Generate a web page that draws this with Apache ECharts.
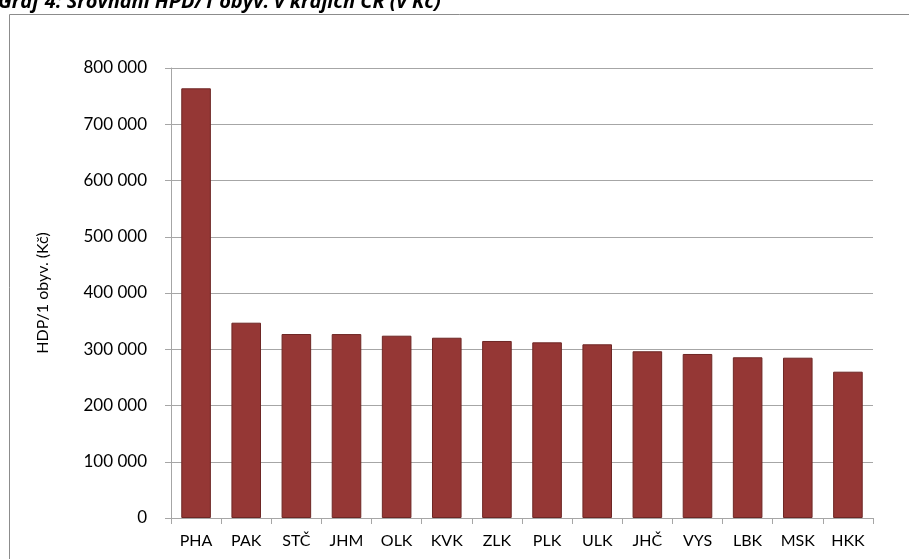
<!DOCTYPE html>
<html>
<head>
<meta charset="utf-8">
<script src="https://cdn.jsdelivr.net/npm/echarts@6/dist/echarts.min.js"></script>
<style>
  html, body { margin: 0; padding: 0; background: #fff; }
  #chart { width: 909px; height: 559px; }
</style>
</head>
<body>
<div id="chart"></div>
<script>
// kraje a HDP na obyvatele (Kč)
const regions = ['PHA', 'PAK', 'STČ', 'JHM', 'OLK', 'KVK', 'ZLK', 'PLK', 'ULK', 'JHČ', 'VYS', 'LBK', 'MSK', 'HKK']
const gdpPerCapita = [763900, 347200, 327100, 327000, 324100, 320500, 314700, 312300, 308800, 296400, 291600, 285700, 285000, 260100]
const yTicks = [0, 100000, 200000, 300000, 400000, 500000, 600000, 700000, 800000]

const FONT = 'Lato, "Open Sans", sans-serif'
const TITLE_FONT = '"Open Sans", Lato, sans-serif'

const chart = echarts.init(document.getElementById('chart'))

const fmt = v => String(v).replace(/\B(?=(\d{3})+(?!\d))/g, ' ')

const option = {
  animation: false,
  textStyle: { fontFamily: FONT },
  graphic: [
    {
      type: 'rect',
      shape: { x: 9.5, y: 14.5, width: 1000, height: 1000 },
      style: { fill: 'none', stroke: '#8c8c8c', lineWidth: 1 },
      silent: true
    },
    {
      type: 'text',
      x: -2,
      y: 12,
      style: {
        text: 'Graf 4: Srovnání HPD/1 obyv. v krajích ČR (v Kč)',
        fontFamily: TITLE_FONT,
        fontSize: 20,
        fontStyle: 'italic',
        fontWeight: 'bold',
        fill: '#000',
        verticalAlign: 'bottom'
      },
      silent: true
    }
  ],
  grid: {
    left: 171,
    right: 36,
    top: 68,
    bottom: 41,
    containLabel: false
  },
  xAxis: {
    type: 'category',
    data: regions,
    axisLine: { lineStyle: { color: '#a6a6a6', width: 1 } },
    axisTick: { show: true, length: 6, alignWithLabel: false, lineStyle: { color: '#a6a6a6' } },
    axisLabel: { color: '#000', fontSize: 16, margin: 15, fontFamily: FONT }
  },
  yAxis: {
    type: 'value',
    min: yTicks[0],
    max: yTicks[yTicks.length - 1],
    interval: 100000,
    name: 'HDP/1 obyv. (Kč)',
    nameLocation: 'middle',
    nameGap: 120,
    nameTextStyle: { color: '#000', fontSize: 16, fontFamily: FONT },
    axisLine: { show: true, lineStyle: { color: '#a6a6a6', width: 1 } },
    axisTick: { show: true, length: 6, lineStyle: { color: '#a6a6a6' } },
    axisLabel: { color: '#000', fontSize: 17, margin: 24, fontFamily: FONT, formatter: fmt },
    splitLine: { show: true, lineStyle: { color: '#a6a6a6', width: 1 } }
  },
  series: [
    {
      type: 'bar',
      data: gdpPerCapita,
      barWidth: '59%',
      itemStyle: {
        color: '#953735',
        borderColor: '#6e2725',
        borderWidth: 1
      }
    }
  ]
}

chart.setOption(option)
</script>
</body>
</html>
